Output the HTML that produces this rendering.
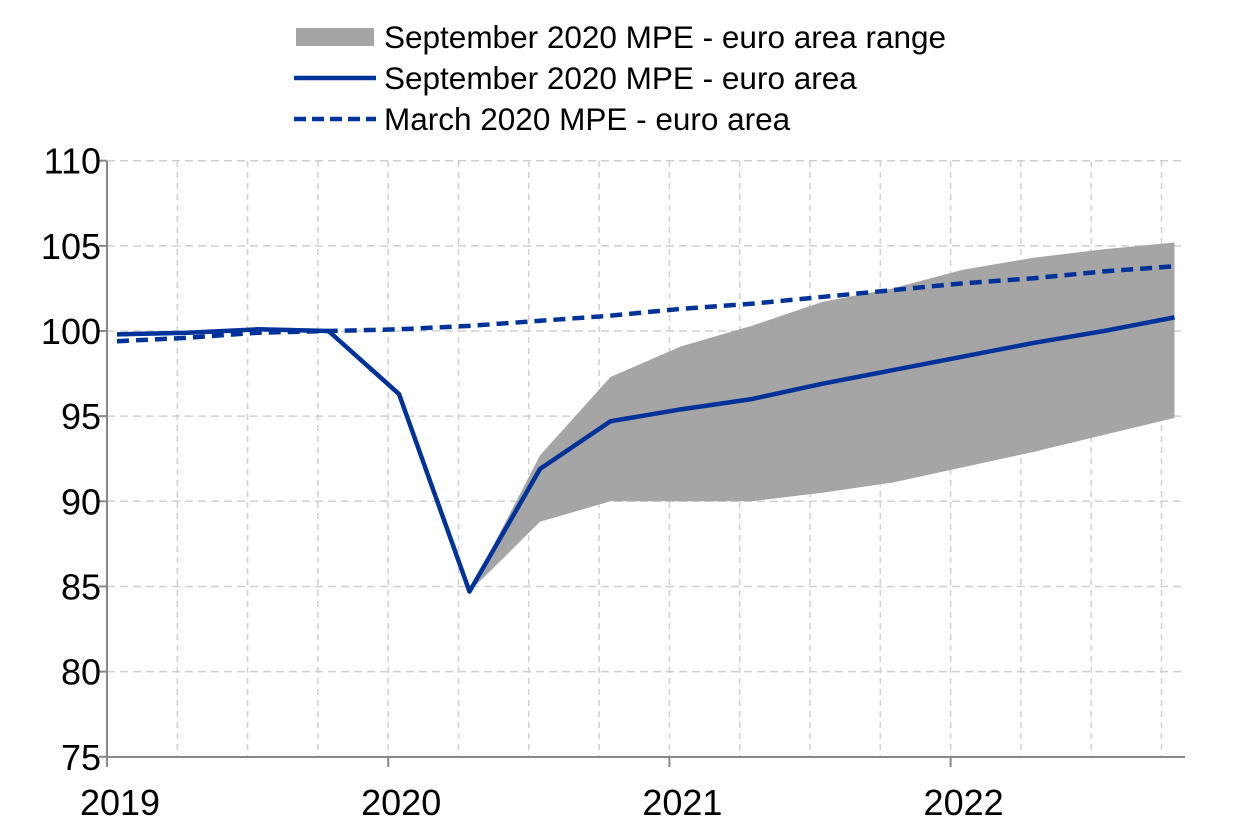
<!DOCTYPE html>
<html><head><meta charset="utf-8"><style>
body{margin:0;background:#fff;}
svg{display:block;font-family:"Liberation Sans",Arial,sans-serif;}
</style></head><body>
<svg id="s" width="1240" height="831" xmlns="http://www.w3.org/2000/svg">
<rect x="296" y="28" width="78" height="18" fill="#a5a5a5"/>
<text x="384" y="48" font-size="31.5" fill="#000">September 2020 MPE - euro area range</text>
<line x1="294" y1="78" x2="376" y2="78" stroke="#003299" stroke-width="4.5"/>
<text x="384" y="89" font-size="31.5" fill="#000">September 2020 MPE - euro area</text>
<line x1="294" y1="119" x2="376" y2="119" stroke="#003299" stroke-width="4.5" stroke-dasharray="12,6"/>
<text x="384" y="130" font-size="31.5" fill="#000">March 2020 MPE - euro area</text>
<g id="g"></g>
</svg>
<script>
var g=document.getElementById('g'),h='';
function Y(v){return 331-(v-100)*17.03;}
for(var v=75;v<=110;v+=5){var y=Y(v);
 if(v>75)h+='<line x1="107" y1="'+y+'" x2="1185" y2="'+y+'" stroke="#d0d0d0" stroke-width="1.5" stroke-dasharray="8,5"/>';
 h+='<line x1="99" y1="'+y+'" x2="107" y2="'+y+'" stroke="#888" stroke-width="2"/>';
 h+='<text x="101" y="'+(y+13)+'" font-size="36" text-anchor="end">'+v+'</text>';}
for(var i=1;i<16;i++){var x=107+70.3*i;
 h+='<line x1="'+x+'" y1="161" x2="'+x+'" y2="757" stroke="#d0d0d0" stroke-width="1.5" stroke-dasharray="6,5"/>';}
var yrs=['2019','2020','2021','2022'];
for(var k=0;k<4;k++){var x=107+281.2*k;h+='<line x1="'+x+'" y1="757" x2="'+x+'" y2="767" stroke="#888" stroke-width="2"/>';
 h+='<text x="'+(x+13)+'" y="815" font-size="36" text-anchor="middle">'+yrs[k]+'</text>';}
function X(i){return 117+70.5*i;}
var up=[84.7,92.7,97.3,99.1,100.3,101.7,102.5,103.6,104.3,104.8,105.2];
var lo=[84.7,88.8,90.0,90.0,90.0,90.5,91.1,92.0,92.9,93.9,94.9];
var p='';for(var i=0;i<11;i++)p+=X(i+5)+','+Y(up[i])+' ';
for(var i=10;i>=0;i--)p+=X(i+5)+','+Y(lo[i])+' ';
h+='<polygon points="'+p+'" fill="#a5a5a5"/>';
var s=[99.8,99.9,100.1,100.0,96.3,84.7,91.9,94.7,95.4,96.0,96.9,97.7,98.5,99.3,100.0,100.8];
var d=[99.4,99.6,99.9,100.0,100.1,100.3,100.6,100.9,101.3,101.6,102.0,102.4,102.8,103.1,103.5,103.8];
var ps='',pd='';for(var i=0;i<16;i++){ps+=X(i)+','+Y(s[i])+' ';pd+=X(i)+','+Y(d[i])+' ';}
h+='<polyline points="'+pd+'" fill="none" stroke="#003299" stroke-width="4.5" stroke-dasharray="12,7"/>';
h+='<polyline points="'+ps+'" fill="none" stroke="#003299" stroke-width="4.5" stroke-linejoin="round"/>';
h+='<line x1="107" y1="161" x2="107" y2="757" stroke="#888" stroke-width="2"/>';
h+='<line x1="107" y1="757" x2="1185" y2="757" stroke="#888" stroke-width="2"/>';
g.innerHTML=h;
</script>
</body></html>
